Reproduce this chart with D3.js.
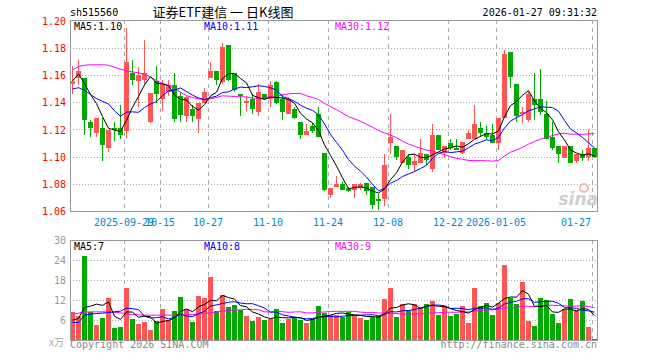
<!DOCTYPE html>
<html>
<head>
<meta charset="utf-8">
<script src="https://cdn.jsdelivr.net/npm/d3@7/dist/d3.min.js"></script>
<style>
  body { margin: 0; background: #fff; }
  svg text { font-family: "DejaVu Sans Mono", monospace; font-size: 10px; }
</style>
</head>
<body>
<div id="chart"></div>
<script>
// K-line data, 2025-09-16 .. 2026-01-27 (88 trading days)
const open  = [1.154,1.158,1.158,1.126,1.118,1.121,1.107,1.121,1.121,1.119,1.162,1.156,1.157,1.126,1.156,1.143,1.148,1.153,1.145,1.130,1.135,1.128,1.140,1.158,1.163,
               1.155,1.182,1.162,1.146,1.140,1.143,1.133,1.146,1.143,1.155,1.143,1.132,1.135,1.126,1.116,1.123,1.132,1.103,1.072,1.078,1.080,1.077,1.076,1.077,1.081,1.078,1.069,1.069,1.110,1.108,1.096,1.100,1.094,1.096,1.102,1.091,1.116,
               1.103,1.110,1.107,1.103,1.113,1.113,1.121,1.118,1.116,1.110,1.129,1.177,1.154,1.132,1.127,1.143,1.143,1.132,1.115,1.108,1.099,1.108,1.097,1.102,1.100,1.107];
const high  = [1.167,1.171,1.158,1.127,1.129,1.129,1.120,1.126,1.138,1.195,1.171,1.166,1.186,1.147,1.167,1.157,1.157,1.162,1.148,1.145,1.138,1.140,1.151,1.170,1.163,
               1.184,1.182,1.162,1.146,1.145,1.146,1.154,1.146,1.156,1.156,1.146,1.144,1.137,1.126,1.124,1.125,1.137,1.103,1.077,1.086,1.082,1.078,1.080,1.081,1.081,1.078,1.073,1.102,1.132,1.108,1.105,1.102,1.102,1.113,1.102,1.124,1.116,
               1.108,1.113,1.113,1.111,1.120,1.138,1.126,1.123,1.124,1.129,1.179,1.177,1.154,1.137,1.148,1.162,1.165,1.141,1.126,1.108,1.108,1.108,1.102,1.105,1.120,1.107];
const low   = [1.146,1.153,1.116,1.115,1.115,1.097,1.104,1.112,1.113,1.114,1.153,1.137,1.153,1.125,1.140,1.134,1.145,1.126,1.126,1.126,1.126,1.118,1.140,1.158,1.153,
               1.154,1.156,1.148,1.130,1.134,1.132,1.130,1.142,1.137,1.139,1.127,1.132,1.128,1.113,1.116,1.118,1.115,1.075,1.070,1.078,1.076,1.074,1.070,1.076,1.072,1.062,1.061,1.064,1.102,1.098,1.096,1.091,1.089,1.096,1.094,1.089,1.105,
               1.099,1.105,1.105,1.102,1.113,1.113,1.115,1.113,1.110,1.105,1.129,1.151,1.126,1.125,1.126,1.127,1.131,1.113,1.105,1.096,1.099,1.096,1.096,1.097,1.097,1.099];
const close = [1.156,1.163,1.127,1.121,1.129,1.109,1.120,1.120,1.116,1.170,1.157,1.160,1.162,1.147,1.146,1.154,1.153,1.128,1.131,1.144,1.130,1.140,1.148,1.163,1.157,
               1.181,1.157,1.149,1.145,1.141,1.135,1.148,1.143,1.153,1.140,1.133,1.143,1.129,1.116,1.119,1.119,1.115,1.076,1.077,1.080,1.076,1.075,1.080,1.080,1.075,1.065,1.068,1.094,1.115,1.100,1.105,1.094,1.097,1.103,1.098,1.116,1.105,
               1.108,1.107,1.105,1.111,1.118,1.124,1.118,1.115,1.110,1.129,1.176,1.159,1.130,1.133,1.146,1.138,1.133,1.113,1.107,1.102,1.108,1.096,1.102,1.099,1.107,1.100];
// volume, 万手
const volume = [8.5,7.5,25.3,8.6,4.6,6.7,12.7,3.7,4.0,15.8,6.4,4.9,5.5,3.1,5.8,9.4,6.2,9.0,13.0,9.6,5.5,13.3,12.8,19.0,9.0,
                13.6,10.0,10.6,9.1,7.3,5.8,7.0,6.1,6.6,9.4,5.2,6.6,7.0,6.1,5.2,6.6,10.3,8.4,7.6,7.8,7.2,8.6,7.4,6.7,6.1,7.2,7.3,12.4,15.7,7.0,10.9,9.1,10.9,10.1,10.9,11.8,7.6,
                10.3,7.3,7.9,10.3,5.2,15.7,10.3,11.2,7.6,11.2,22.6,12.7,10.9,17.5,5.8,4.3,12.7,12.1,7.9,5.2,9.4,12.4,9.1,11.8,4.0,0.4];

// moving-average values before a full window is available
const ma5Head  = [1.156,1.161,1.154,1.146];
const ma10Head = [1.150,1.151,1.149,1.146,1.143,1.141,1.139,1.134,1.130];
const ma30Head = [1.164,1.1665,1.1675,1.1678,1.1678,1.1678,1.1675,1.166,1.1646,1.1634,1.1626,1.1619,1.1609,1.1587,1.1563,
                  1.1543,1.1526,1.1506,1.1477,1.1452,1.1438,1.1428,1.1425,1.1428,1.1438,1.145,1.1448,1.1445,1.1443];
const vma5Head  = [6.1,6.6,10.0,10.3];
const vma10Head = [5.4,5.4,7.6,7.9,8.1,8.2,8.4,8.6,8.8];
const vma30Head = [7.9,8.2,8.5,8.6,8.6,8.6,8.6,8.5,8.3,8.0,7.8,7.7,7.6,7.6,7.6,7.6,7.6,7.6,7.6,7.7,7.8,7.9,8.1,8.3,8.5,8.8,9.0,9.1,9.2];

const tickIdx    = [9,15,23,33,43,53,63,71,87];
const tickLabels = ["2025-09-29","10-15","10-27","11-10","11-24","12-08","12-22","2026-01-05","01-27"];
const priceTicks = [1.06,1.08,1.10,1.12,1.14,1.16,1.18,1.20];
const volTicks   = [6,12,18,24,30];
const priceMaLabels = ["MA5:1.10","MA10:1.11","MA30:1.12"];
const volMaLabels   = ["MA5:7","MA10:8","MA30:9"];

const RED = "#ff5555", GREEN = "#00aa00", GRID = "#aaa", BORDER = "#999";
const maColors = ["#000", "#0000ff", "#ff00ff"];

function movingAvg(arr, n, head) {
  return arr.map((_, i) => i < n - 1 ? head[i] : d3.mean(arr.slice(i - n + 1, i + 1)));
}

const svg = d3.select("#chart").append("svg")
  .attr("width", 660).attr("height", 360);

const L = 70, R = 597;
const pTop = 20, pBot = 211, vTop = 240, vBot = 340;

const x = d3.scaleLinear().domain([0, 88]).range([70, 598]);
const yP = d3.scaleLinear().domain([1.06, 1.20]).range([211.5, 21]);
const yV = d3.scaleLinear().domain([0, 30]).range([340.5, 240.5]);

const up = i => close[i] >= open[i];
const idx = d3.range(close.length);

// ---- header
svg.append("text").attr("x", 70).attr("y", 16).text("sh515560");
svg.append("text").attr("x", 223).attr("y", 17).attr("text-anchor", "middle")
  .style("font-family", "'Noto Sans CJK SC', sans-serif").style("font-size", "13px")
  .text("证券ETF建信 一 日K线图");
svg.append("text").attr("x", 597).attr("y", 16).attr("text-anchor", "end").text("2026-01-27 09:31:32");

// ---- grids for both panels
function panel(top, bot, yScale, gridVals) {
  const g = svg.append("g").attr("shape-rendering", "crispEdges");
  g.selectAll(".hg").data(gridVals).enter().append("line")
    .attr("x1", L).attr("x2", R)
    .attr("y1", d => Math.floor(yScale(d)) + 0.5).attr("y2", d => Math.floor(yScale(d)) + 0.5)
    .attr("stroke", GRID).attr("stroke-dasharray", "1,2");
  g.selectAll(".vg").data(tickIdx).enter().append("line")
    .attr("x1", d => x(d) + 0.5).attr("x2", d => x(d) + 0.5)
    .attr("y1", top).attr("y2", bot)
    .attr("stroke", GRID).attr("stroke-dasharray", "4,4");
  return g;
}
panel(pTop, pBot, yP, [1.08,1.10,1.12,1.14,1.16,1.18]);
panel(vTop, vBot, yV, [6,12,18,24]);

// watermark
const wm = svg.append("g");
wm.append("circle").attr("cx", 584).attr("cy", 188).attr("r", 4)
  .attr("fill", "none").attr("stroke", "#f2b8b8").attr("stroke-width", 2);
wm.append("text").attr("x", 598).attr("y", 205).attr("text-anchor", "end")
  .style("font-family", "'DejaVu Sans', sans-serif").style("font-size", "17px")
  .style("font-weight", "bold").style("font-style", "italic")
  .attr("fill", "#cfcfcf").text("sina");

// ---- price axis labels
const pAxis = svg.append("g").attr("transform", `translate(${L},0)`)
  .call(d3.axisLeft(yP).tickValues(priceTicks).tickFormat(d3.format(".2f")).tickSize(0).tickPadding(4));
pAxis.select(".domain").remove();
pAxis.selectAll("text").attr("fill", "#ff0000")
  .style("font-family", "'DejaVu Sans Mono', monospace").style("font-size", "10px");

const vAxis = svg.append("g").attr("transform", `translate(${L},0)`)
  .call(d3.axisLeft(yV).tickValues(volTicks).tickSize(0).tickPadding(4));
vAxis.select(".domain").remove();
vAxis.selectAll("text").attr("fill", "#999")
  .style("font-family", "'DejaVu Sans Mono', monospace").style("font-size", "10px");
svg.append("text").attr("x", 49).attr("y", 346).attr("fill", "#aaa")
  .style("font-family", "'Noto Sans CJK SC', sans-serif").style("font-size", "10px").text("x万");

// ---- date labels
svg.selectAll(".dl").data(tickIdx).enter().append("text")
  .attr("x", (d, i) => i === tickIdx.length - 1 ? R - 6 : x(d))
  .attr("y", 226)
  .attr("text-anchor", (d, i) => i === tickIdx.length - 1 ? "end" : "middle")
  .attr("fill", "#0088cc")
  .text((d, i) => tickLabels[i]);

// ---- candles
const cg = svg.append("g").attr("shape-rendering", "crispEdges");
cg.selectAll(".wick").data(idx).enter().append("line")
  .attr("x1", i => x(i) + 2.5).attr("x2", i => x(i) + 2.5)
  .attr("y1", i => yP(high[i])).attr("y2", i => yP(low[i]))
  .attr("stroke", i => up(i) ? RED : GREEN);
cg.selectAll(".body").data(idx).enter().append("rect")
  .attr("x", i => x(i)).attr("width", 5)
  .attr("y", i => yP(Math.max(open[i], close[i])))
  .attr("height", i => Math.max(1, Math.abs(yP(open[i]) - yP(close[i]))))
  .attr("fill", i => up(i) ? RED : GREEN);

// ---- volume bars
cg.selectAll(".vol").data(idx).enter().append("rect")
  .attr("x", i => x(i)).attr("width", 5)
  .attr("y", i => yV(volume[i]))
  .attr("height", i => vBot - yV(volume[i]))
  .attr("fill", i => up(i) ? RED : GREEN);

// ---- moving averages
const priceMAs = [movingAvg(close, 5, ma5Head), movingAvg(close, 10, ma10Head), movingAvg(close, 30, ma30Head)];
const volMAs = [movingAvg(volume, 5, vma5Head), movingAvg(volume, 10, vma10Head), movingAvg(volume, 30, vma30Head)];

const lineP = d3.line().x((d, i) => x(i) + 2.5).y(d => yP(d));
const lineV = d3.line().x((d, i) => x(i) + 2.5).y(d => yV(d));

[2, 1, 0].forEach(k => {
  svg.append("path").attr("d", lineP(priceMAs[k])).attr("fill", "none")
    .attr("stroke", maColors[k]).attr("stroke-width", 1);
  svg.append("path").attr("d", lineV(volMAs[k])).attr("fill", "none")
    .attr("stroke", maColors[k]).attr("stroke-width", 1);
});

// ---- borders
[[pTop, pBot], [vTop, vBot]].forEach(([t, b]) => {
  svg.append("rect").attr("x", L + 0.5).attr("y", t + 0.5)
    .attr("width", R - L).attr("height", b - t)
    .attr("fill", "none").attr("stroke", BORDER).attr("shape-rendering", "crispEdges");
});

// ---- MA legends
const maX = [74, 204, 335];
priceMaLabels.forEach((t, k) => {
  svg.append("text").attr("x", maX[k]).attr("y", 30).attr("fill", maColors[k]).text(t);
});
volMaLabels.forEach((t, k) => {
  svg.append("text").attr("x", maX[k]).attr("y", 250).attr("fill", maColors[k]).text(t);
});

// ---- footer
svg.append("text").attr("x", 70).attr("y", 348).attr("fill", "#888").text("Copyright 2026 SINA.COM");
svg.append("text").attr("x", 597).attr("y", 348).attr("text-anchor", "end").attr("fill", "#888").text("http://finance.sina.com.cn");
</script>
</body>
</html>
